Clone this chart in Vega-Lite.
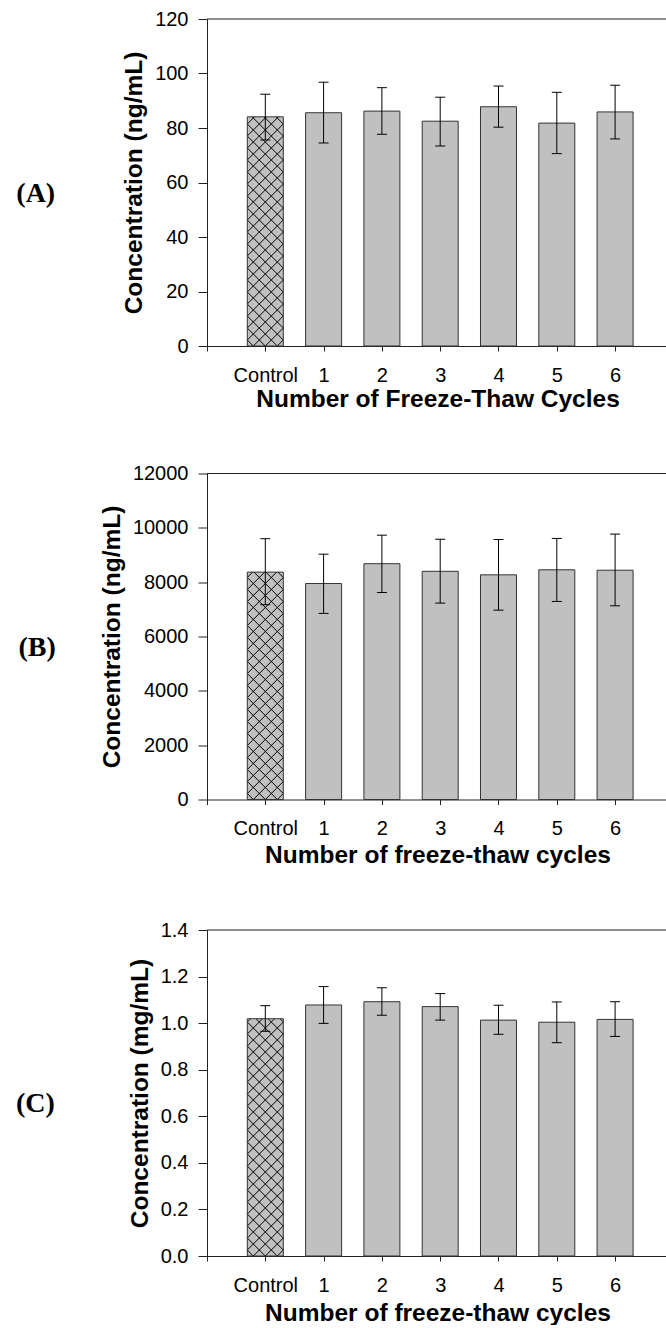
{
  "$schema": "https://vega.github.io/schema/vega-lite/v6.json",
  "padding": {"left": 15, "top": 9, "right": 0, "bottom": 0},
  "spacing": 52.5,
  "config": {
    "view": {"stroke": null},
    "font": "Liberation Sans",
    "axis": {"grid": false, "labelFont": "Liberation Sans", "titleFont": "Liberation Sans", "labelFontSize": 20, "titleFontSize": 24.5, "titleFontWeight": "bold", "labelColor": "#000", "titleColor": "#000", "domainColor": "#222", "tickColor": "#222", "domainWidth": 1, "tickWidth": 1},
    "axisY": {"tickSize": 9, "labelPadding": 10, "titlePadding": 8},
    "axisX": {"tickSize": 5, "labelPadding": 14, "labelAngle": 0},
    "title": {"font": "Liberation Serif", "fontSize": 28, "fontWeight": "bold", "color": "#000", "orient": "left", "angle": 0, "anchor": "middle", "align": "right", "baseline": "middle", "frame": "group", "dy": -3}
  },
  "vconcat": [
    {
      "width": 461, "height": 327,
      "title": {"text": "(A)", "offset": 47},
      "data": {"values": [
        {"cycle": "Control", "mean": 84.1, "lo": 75.6, "hi": 92.4},
        {"cycle": "1", "mean": 85.6, "lo": 74.5, "hi": 96.8},
        {"cycle": "2", "mean": 86.2, "lo": 77.7, "hi": 94.8},
        {"cycle": "3", "mean": 82.5, "lo": 73.4, "hi": 91.3},
        {"cycle": "4", "mean": 87.8, "lo": 80.3, "hi": 95.4},
        {"cycle": "5", "mean": 81.8, "lo": 70.6, "hi": 93.1},
        {"cycle": "6", "mean": 85.9, "lo": 76.0, "hi": 95.7}
      ]},
      "layer": [
        {"mark": {"type": "bar", "width": 36, "fill": "#c0c0c0", "stroke": null},
         "encoding": {
           "x": {"field": "cycle", "type": "nominal", "scale": {"type": "point", "domain": ["_0", "Control", "1", "2", "3", "4", "5", "6"], "padding": 0.4537, "align": 0}, "axis": {"title": "Number of Freeze-Thaw Cycles", "titlePadding": 2, "labelExpr": "datum.value == '_0' ? '' : datum.value"}},
           "y": {"field": "mean", "type": "quantitative", "scale": {"domain": [0, 120]}, "axis": {"title": "Concentration (ng/mL)", "values": [0, 20, 40, 60, 80, 100, 120]}}}},
        {"transform": [{"filter": "datum.cycle == 'Control'"}],
         "mark": {"type": "point", "shape": "M-3 -49L3 -43M-3 -47L3 -41M-3 -45L3 -39M-3 -43L3 -37M-3 -41L3 -35M-3 -39L3 -33M-3 -37L3 -31M-3 -35L3 -29M-3 -33L3 -27M-3 -31L3 -25M-3 -29L3 -23M-3 -27L3 -21M-3 -25L3 -19M-3 -23L3 -17M-3 -21L3 -15M-3 -19L3 -13M-3 -17L3 -11M-3 -15L3 -9M-3 -13L3 -7M-3 -11L3 -5M-3 -9L3 -3M-3 -7L3 -1M-3 -5L2 0M-3 -3L0 0M-3 -1L-2 0M3 -49L-3 -43M3 -47L-3 -41M3 -45L-3 -39M3 -43L-3 -37M3 -41L-3 -35M3 -39L-3 -33M3 -37L-3 -31M3 -35L-3 -29M3 -33L-3 -27M3 -31L-3 -25M3 -29L-3 -23M3 -27L-3 -21M3 -25L-3 -19M3 -23L-3 -17M3 -21L-3 -15M3 -19L-3 -13M3 -17L-3 -11M3 -15L-3 -9M3 -13L-3 -7M3 -11L-3 -5M3 -9L-3 -3M3 -7L-3 -1M3 -5L-2 0M3 -3L0 0M3 -1L2 0", "size": 144, "filled": false, "stroke": "#000", "strokeWidth": 1, "opacity": 1},
         "encoding": {"x": {"field": "cycle", "type": "nominal"}, "y": {"datum": 0}}},
        {"transform": [{"filter": "datum.cycle == 'Control'"}],
         "mark": {"type": "bar", "width": 42, "fill": "white", "stroke": null},
         "encoding": {"x": {"field": "cycle", "type": "nominal"}, "y": {"field": "mean", "type": "quantitative"}, "y2": {"datum": 120}}},
        {"mark": {"type": "bar", "width": 36, "fill": null, "stroke": "#333", "strokeWidth": 1},
         "encoding": {"x": {"field": "cycle", "type": "nominal"}, "y": {"field": "mean", "type": "quantitative"}}},
        {"mark": {"type": "rule", "color": "#000", "strokeWidth": 1},
         "encoding": {"x": {"field": "cycle", "type": "nominal"}, "y": {"field": "lo", "type": "quantitative"}, "y2": {"field": "hi"}}},
        {"mark": {"type": "tick", "size": 10, "thickness": 1, "color": "#000", "opacity": 1},
         "encoding": {"x": {"field": "cycle", "type": "nominal"}, "y": {"field": "lo", "type": "quantitative"}}},
        {"mark": {"type": "tick", "size": 10, "thickness": 1, "color": "#000", "opacity": 1},
         "encoding": {"x": {"field": "cycle", "type": "nominal"}, "y": {"field": "hi", "type": "quantitative"}}},
        {"data": {"values": [{}]}, "mark": {"type": "rule", "color": "#222", "strokeWidth": 1},
         "encoding": {"y": {"datum": 120}}}
      ]
    },
    {
      "width": 461, "height": 326,
      "title": {"text": "(B)", "offset": 25},
      "data": {"values": [
        {"cycle": "Control", "mean": 8370, "lo": 7170, "hi": 9600},
        {"cycle": "1", "mean": 7950, "lo": 6850, "hi": 9030},
        {"cycle": "2", "mean": 8680, "lo": 7620, "hi": 9730},
        {"cycle": "3", "mean": 8400, "lo": 7230, "hi": 9580},
        {"cycle": "4", "mean": 8270, "lo": 6970, "hi": 9570},
        {"cycle": "5", "mean": 8455, "lo": 7290, "hi": 9610},
        {"cycle": "6", "mean": 8440, "lo": 7130, "hi": 9770}
      ]},
      "layer": [
        {"mark": {"type": "bar", "width": 36, "fill": "#c0c0c0", "stroke": null},
         "encoding": {
           "x": {"field": "cycle", "type": "nominal", "scale": {"type": "point", "domain": ["_0", "Control", "1", "2", "3", "4", "5", "6"], "padding": 0.4537, "align": 0}, "axis": {"title": "Number of freeze-thaw cycles", "titlePadding": 5, "labelExpr": "datum.value == '_0' ? '' : datum.value"}},
           "y": {"field": "mean", "type": "quantitative", "scale": {"domain": [0, 12000]}, "axis": {"title": "Concentration (ng/mL)", "format": "d", "values": [0, 2000, 4000, 6000, 8000, 10000, 12000]}}}},
        {"transform": [{"filter": "datum.cycle == 'Control'"}],
         "mark": {"type": "point", "shape": "M-3 -49L3 -43M-3 -47L3 -41M-3 -45L3 -39M-3 -43L3 -37M-3 -41L3 -35M-3 -39L3 -33M-3 -37L3 -31M-3 -35L3 -29M-3 -33L3 -27M-3 -31L3 -25M-3 -29L3 -23M-3 -27L3 -21M-3 -25L3 -19M-3 -23L3 -17M-3 -21L3 -15M-3 -19L3 -13M-3 -17L3 -11M-3 -15L3 -9M-3 -13L3 -7M-3 -11L3 -5M-3 -9L3 -3M-3 -7L3 -1M-3 -5L2 0M-3 -3L0 0M-3 -1L-2 0M3 -49L-3 -43M3 -47L-3 -41M3 -45L-3 -39M3 -43L-3 -37M3 -41L-3 -35M3 -39L-3 -33M3 -37L-3 -31M3 -35L-3 -29M3 -33L-3 -27M3 -31L-3 -25M3 -29L-3 -23M3 -27L-3 -21M3 -25L-3 -19M3 -23L-3 -17M3 -21L-3 -15M3 -19L-3 -13M3 -17L-3 -11M3 -15L-3 -9M3 -13L-3 -7M3 -11L-3 -5M3 -9L-3 -3M3 -7L-3 -1M3 -5L-2 0M3 -3L0 0M3 -1L2 0", "size": 144, "filled": false, "stroke": "#000", "strokeWidth": 1, "opacity": 1},
         "encoding": {"x": {"field": "cycle", "type": "nominal"}, "y": {"datum": 0}}},
        {"transform": [{"filter": "datum.cycle == 'Control'"}],
         "mark": {"type": "bar", "width": 42, "fill": "white", "stroke": null},
         "encoding": {"x": {"field": "cycle", "type": "nominal"}, "y": {"field": "mean", "type": "quantitative"}, "y2": {"datum": 12000}}},
        {"mark": {"type": "bar", "width": 36, "fill": null, "stroke": "#333", "strokeWidth": 1},
         "encoding": {"x": {"field": "cycle", "type": "nominal"}, "y": {"field": "mean", "type": "quantitative"}}},
        {"mark": {"type": "rule", "color": "#000", "strokeWidth": 1},
         "encoding": {"x": {"field": "cycle", "type": "nominal"}, "y": {"field": "lo", "type": "quantitative"}, "y2": {"field": "hi"}}},
        {"mark": {"type": "tick", "size": 10, "thickness": 1, "color": "#000", "opacity": 1},
         "encoding": {"x": {"field": "cycle", "type": "nominal"}, "y": {"field": "lo", "type": "quantitative"}}},
        {"mark": {"type": "tick", "size": 10, "thickness": 1, "color": "#000", "opacity": 1},
         "encoding": {"x": {"field": "cycle", "type": "nominal"}, "y": {"field": "hi", "type": "quantitative"}}},
        {"data": {"values": [{}]}, "mark": {"type": "rule", "color": "#222", "strokeWidth": 1},
         "encoding": {"y": {"datum": 12000}}}
      ]
    },
    {
      "width": 461, "height": 326,
      "title": {"text": "(C)", "offset": 53},
      "data": {"values": [
        {"cycle": "Control", "mean": 1.019, "lo": 0.965, "hi": 1.075},
        {"cycle": "1", "mean": 1.078, "lo": 0.999, "hi": 1.157},
        {"cycle": "2", "mean": 1.092, "lo": 1.034, "hi": 1.152},
        {"cycle": "3", "mean": 1.071, "lo": 1.013, "hi": 1.127},
        {"cycle": "4", "mean": 1.013, "lo": 0.952, "hi": 1.077},
        {"cycle": "5", "mean": 1.004, "lo": 0.916, "hi": 1.091},
        {"cycle": "6", "mean": 1.016, "lo": 0.943, "hi": 1.092}
      ]},
      "layer": [
        {"mark": {"type": "bar", "width": 36, "fill": "#c0c0c0", "stroke": null},
         "encoding": {
           "x": {"field": "cycle", "type": "nominal", "scale": {"type": "point", "domain": ["_0", "Control", "1", "2", "3", "4", "5", "6"], "padding": 0.4537, "align": 0}, "axis": {"title": "Number of freeze-thaw cycles", "titlePadding": 6, "labelExpr": "datum.value == '_0' ? '' : datum.value"}},
           "y": {"field": "mean", "type": "quantitative", "scale": {"domain": [0, 1.4]}, "axis": {"title": "Concentration (mg/mL)", "format": ".1f", "values": [0, 0.2, 0.4, 0.6, 0.8, 1.0, 1.2, 1.4]}}}},
        {"transform": [{"filter": "datum.cycle == 'Control'"}],
         "mark": {"type": "point", "shape": "M-3 -49L3 -43M-3 -47L3 -41M-3 -45L3 -39M-3 -43L3 -37M-3 -41L3 -35M-3 -39L3 -33M-3 -37L3 -31M-3 -35L3 -29M-3 -33L3 -27M-3 -31L3 -25M-3 -29L3 -23M-3 -27L3 -21M-3 -25L3 -19M-3 -23L3 -17M-3 -21L3 -15M-3 -19L3 -13M-3 -17L3 -11M-3 -15L3 -9M-3 -13L3 -7M-3 -11L3 -5M-3 -9L3 -3M-3 -7L3 -1M-3 -5L2 0M-3 -3L0 0M-3 -1L-2 0M3 -49L-3 -43M3 -47L-3 -41M3 -45L-3 -39M3 -43L-3 -37M3 -41L-3 -35M3 -39L-3 -33M3 -37L-3 -31M3 -35L-3 -29M3 -33L-3 -27M3 -31L-3 -25M3 -29L-3 -23M3 -27L-3 -21M3 -25L-3 -19M3 -23L-3 -17M3 -21L-3 -15M3 -19L-3 -13M3 -17L-3 -11M3 -15L-3 -9M3 -13L-3 -7M3 -11L-3 -5M3 -9L-3 -3M3 -7L-3 -1M3 -5L-2 0M3 -3L0 0M3 -1L2 0", "size": 144, "filled": false, "stroke": "#000", "strokeWidth": 1, "opacity": 1},
         "encoding": {"x": {"field": "cycle", "type": "nominal"}, "y": {"datum": 0}}},
        {"transform": [{"filter": "datum.cycle == 'Control'"}],
         "mark": {"type": "bar", "width": 42, "fill": "white", "stroke": null},
         "encoding": {"x": {"field": "cycle", "type": "nominal"}, "y": {"field": "mean", "type": "quantitative"}, "y2": {"datum": 1.4}}},
        {"mark": {"type": "bar", "width": 36, "fill": null, "stroke": "#333", "strokeWidth": 1},
         "encoding": {"x": {"field": "cycle", "type": "nominal"}, "y": {"field": "mean", "type": "quantitative"}}},
        {"mark": {"type": "rule", "color": "#000", "strokeWidth": 1},
         "encoding": {"x": {"field": "cycle", "type": "nominal"}, "y": {"field": "lo", "type": "quantitative"}, "y2": {"field": "hi"}}},
        {"mark": {"type": "tick", "size": 10, "thickness": 1, "color": "#000", "opacity": 1},
         "encoding": {"x": {"field": "cycle", "type": "nominal"}, "y": {"field": "lo", "type": "quantitative"}}},
        {"mark": {"type": "tick", "size": 10, "thickness": 1, "color": "#000", "opacity": 1},
         "encoding": {"x": {"field": "cycle", "type": "nominal"}, "y": {"field": "hi", "type": "quantitative"}}},
        {"data": {"values": [{}]}, "mark": {"type": "rule", "color": "#222", "strokeWidth": 1},
         "encoding": {"y": {"datum": 1.4}}}
      ]
    }
  ]
}
